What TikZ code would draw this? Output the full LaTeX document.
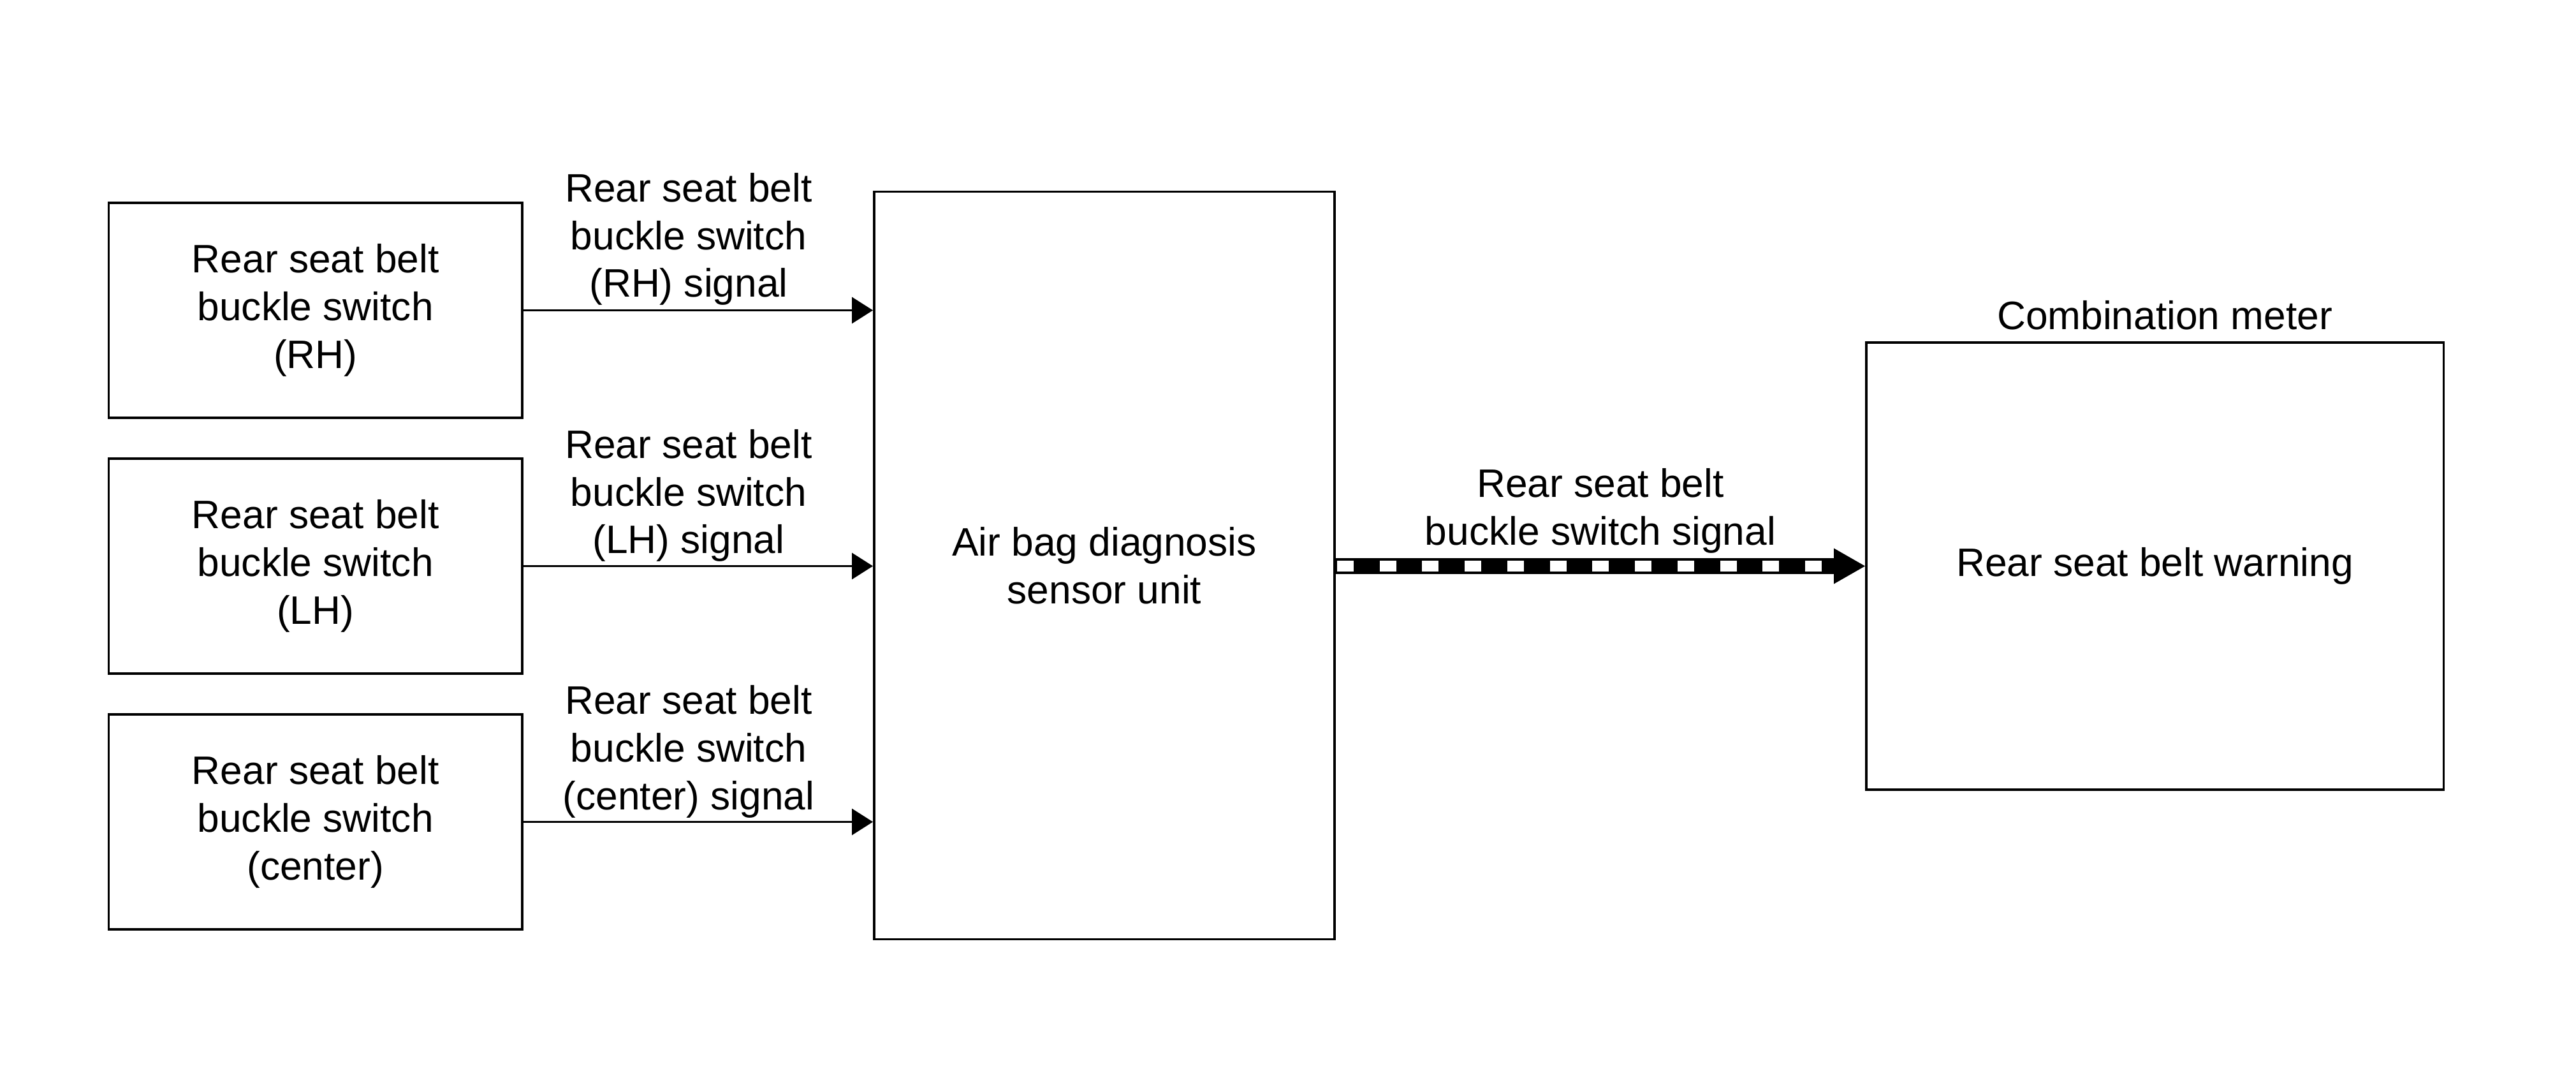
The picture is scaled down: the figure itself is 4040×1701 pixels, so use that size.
\documentclass[tikz,border=0pt]{standalone}
\usepackage{fontspec}
\setmainfont{Liberation Sans}
\usetikzlibrary{arrows.meta}
\begin{document}
\begin{tikzpicture}[x=0.01cm,y=-0.01cm,
  txt/.style={font=\fontsize{17.7}{21.3}\selectfont, align=center, inner sep=0pt},
  blk/.style={draw, line width=0.035cm, inner sep=0pt, txt},
  swbox/.style={blk, minimum width=6.485cm, minimum height=3.37cm},
  sig/.style={line width=0.035cm, -{Triangle[length=0.33cm,width=0.41cm]}},
]
\useasboundingbox (0,0) rectangle (4040,1701);
% source boxes
\node[swbox] (rh) at (494.75,486.5) {Rear seat belt\\buckle switch\\(RH)};
\node[swbox] (lh) at (494.75,887.5) {Rear seat belt\\buckle switch\\(LH)};
\node[swbox] (ct) at (494.75,1288.5) {Rear seat belt\\buckle switch\\(center)};
% air bag unit
\node[blk, minimum width=7.22cm, minimum height=11.71cm] (ab) at (1732,886.5) {Air bag diagnosis\\sensor unit};
% combination meter
\node[blk, minimum width=9.05cm, minimum height=7.01cm] (cm) at (3379.5,887.5) {Rear seat belt warning};
\node[txt, anchor=base] (cmlbl) at (3395,517) {Combination meter};
% thin arrows
\draw[sig] (rh.east) -- (ab.west |- rh.east);
\draw[sig] (lh.east) -- (ab.west |- lh.east);
\draw[sig] (ct.east) -- (ab.west |- ct.east);
% arrow labels
\node[txt] (l1) at (1080,375) {Rear seat belt\\buckle switch\\(RH) signal};
\node[txt] (l2) at (1080,777) {Rear seat belt\\buckle switch\\(LH) signal};
\node[txt] (l3) at (1080,1178) {Rear seat belt\\buckle switch\\(center) signal};
% thick communication arrow
\coordinate (ta) at (ab.east |- cm.west);
\coordinate (tb) at ([xshift=-0.49cm]cm.west);
\draw[line width=0.25cm] (ta) -- (tb);
\draw[white, line width=0.16cm, dash pattern=on 0.26cm off 0.407cm] ([xshift=0.02cm]ta) -- (tb);
\fill ([yshift=0.28cm]tb) -- (cm.west) -- ([yshift=-0.28cm]tb) -- cycle;
\node[txt] (l4) at (2510,801) {Rear seat belt\\buckle switch signal};
\end{tikzpicture}
\end{document}
